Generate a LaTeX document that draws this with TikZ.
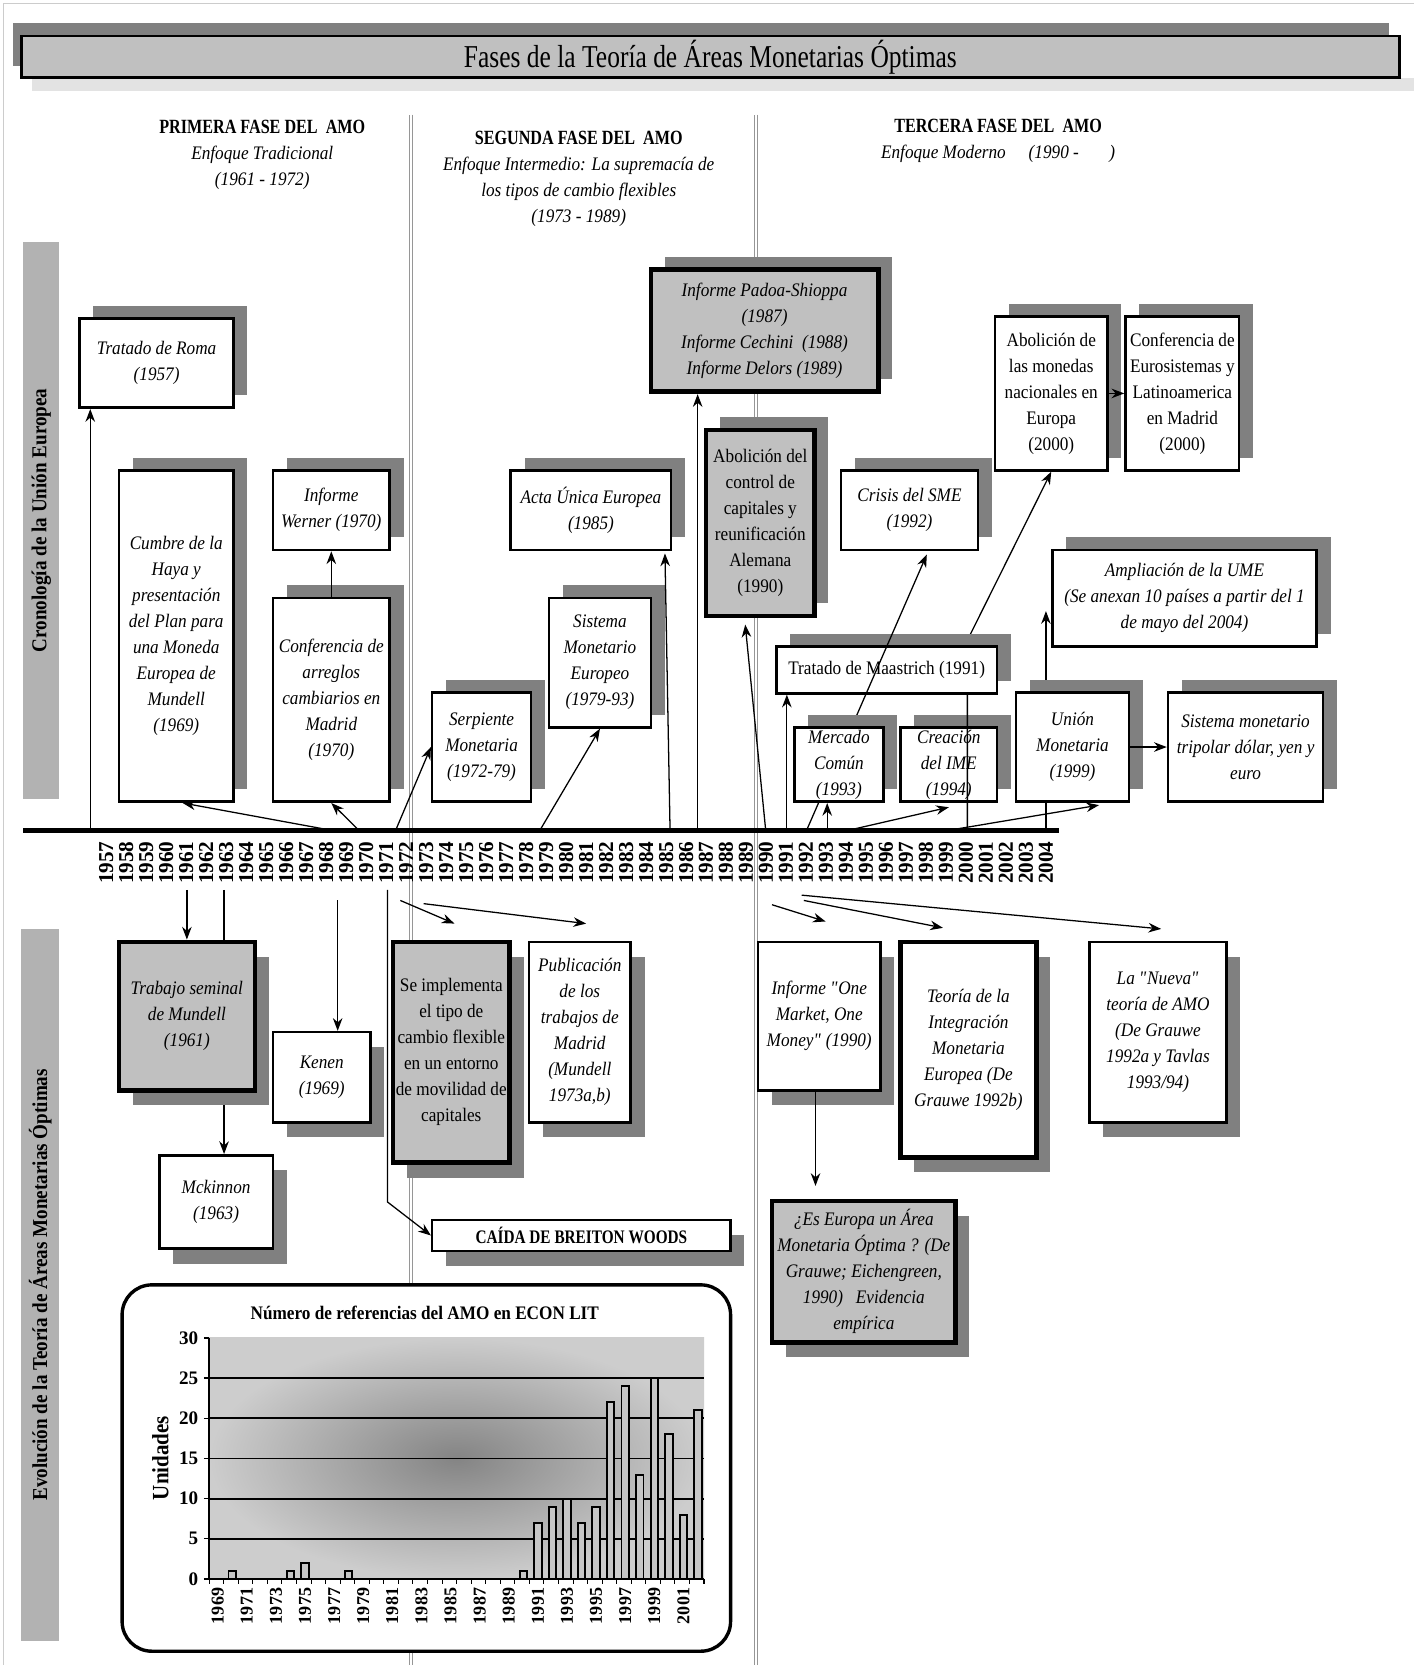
\documentclass[tikz,border=0pt]{standalone}
\usepackage{fontspec}
\setmainfont[FakeStretch=0.9]{Liberation Serif}
\newfontfamily\cond[FakeStretch=0.8]{Liberation Serif}
\newfontfamily\plain{Liberation Serif}
\usetikzlibrary{arrows.meta,shadows,fit,calc}
\definecolor{shd}{RGB}{128,128,128}
\definecolor{boxgray}{RGB}{192,192,192}
\definecolor{sidegray}{RGB}{178,178,178}
\definecolor{sepgray}{RGB}{150,150,150}
\newcommand\BX[7][]{\node[bx,#1,minimum width={(#5-#3)*0.5pt},minimum height={(#6-#4)*0.5pt}] (#2) at ({(#3+#5)/2},{(#4+#6)/2}) {#7};}
\newcommand\qq{\textquotedbl}
\begin{document}
\begin{tikzpicture}[x=0.5pt,y=-0.5pt,
  bx/.style={draw=black, fill=white, line width=1.2pt, inner sep=0pt, align=center,
    font=\fontsize{9}{12.25}\selectfont\itshape},
  up/.style={font=\fontsize{9}{12.25}\selectfont},
  thk/.style={line width=2.2pt},
  gfill/.style={fill=boxgray},
  shUR/.style={general shadow={fill=shd, shadow xshift=6.5pt, shadow yshift=6pt}},
  shDR/.style={general shadow={fill=shd, shadow xshift=6.5pt, shadow yshift=-7pt}},
  arr/.style={-{Stealth[length=6pt,width=4.5pt]}, line width=0.6pt},
  sep/.style={draw=sepgray, double=white, double distance=1pt, line width=0.45pt},
  hdr/.style={align=center, font=\fontsize{9}{12.25}\selectfont\itshape},
  sidebar/.style={fill=sidegray, inner sep=0pt},
  sidetxt/.style={rotate=90, font=\bfseries\fontsize{10}{12}\selectfont},
  yrlab/.style={rotate=90, anchor=east, inner sep=0pt, font=\plain\bfseries\fontsize{10}{12}\selectfont},
  clab/.style={rotate=90, anchor=east, inner sep=0pt, font=\plain\bfseries\fontsize{8.5}{10}\selectfont},
  bar/.style={draw=black, fill=gray!45, line width=0.9pt},
]
\useasboundingbox (0,0) rectangle (1332,1568);
% page frame
\draw[gray!40, line width=0.6pt] (3,1568) -- (3,3) -- (1332,3);

% title
\fill[shd] (12,22) rectangle (1308,62);
\fill[gray!22] (30,73) rectangle (1332,86);
\node[draw=black, line width=1.3pt, fill=boxgray, inner sep=0pt,
  minimum width={1298*0.5pt}, minimum height={39*0.5pt},
  font=\cond\fontsize{15}{18}\selectfont] (title) at (669,53.5) {Fases de la Teoría de Áreas Monetarias Óptimas};

% phase separators
\draw[sep] (387,108) -- (387,1568);
\draw[sep] (712,108) -- (712,1568);

% headers
\node[hdr] (h1) at (247,145.5) {{\cond\bfseries\upshape\fontsize{9.5}{12.25}\selectfont PRIMERA FASE DEL\ \ AMO}\\Enfoque Tradicional\\(1961 - 1972)};
\node[hdr] (h2) at (545,168) {{\cond\bfseries\upshape\fontsize{9.5}{12.25}\selectfont SEGUNDA FASE DEL\ \ AMO}\\Enfoque Intermedio: La supremacía de\\los tipos de cambio flexibles\\(1973 - 1989)};
\node[hdr] (h3) at (940,133) {{\cond\bfseries\upshape\fontsize{9.5}{12.25}\selectfont TERCERA FASE DEL\ \ AMO}\\Enfoque Moderno\hspace{1.2em}(1990 -\hspace{1.6em})};

% side bars
\node[sidebar, fit={(22,228) (56,752)}] (cron) {};
\node[sidetxt] (crontxt) at (cron.center) {Cronología de la Unión Europea};
\node[sidebar, fit={(20,875) (56,1545)}] (evo) {};
\node[sidetxt] (evotxt) at (evo.center) {Evolución de la Teoría de Áreas Monetarias Óptimas};

% timeline
\coordinate (tlA) at (22,782);
\coordinate (tlB) at (997,782);
\draw[line width=2.6pt] (tlA) -- (tlB);
\foreach \yr in {1957,...,2004}
  \node[yrlab] (yr\yr) at ({100+(\yr-1957)*18.83},792) {\yr};

% timeline anchor points
\coordinate (tRoma) at (85,781);
\coordinate (tCumbre) at (307,781);
\coordinate (tConf) at (337,781);
\coordinate (tSerp) at (373,781);
\coordinate (tSme) at (509,781);
\coordinate (tActa) at (631,781);
\coordinate (tPadoa) at (657,781);
\coordinate (tAbol) at (721,781);
\coordinate (tMaas) at (741,781);
\coordinate (tCrisis) at (760,781);
\coordinate (tMerc) at (779,781);
\coordinate (tIme) at (803,781);
\coordinate (tUni) at (899,781);
\coordinate (t2000) at (911,781);
\coordinate (k2000) at (911,603);
\coordinate (t2004) at (985,781);
\coordinate (bTrab) at (176,838);
\coordinate (bMck) at (211,838);
\coordinate (bKen) at (318,848);
\coordinate (bBW) at (365,838);
\coordinate (kBW) at (365,1132);
\coordinate (bSe) at (377,848);
\coordinate (bPub) at (399,851);
\coordinate (bOne) at (727,852);
\coordinate (bTeo) at (757,848);
\coordinate (bNue) at (755,843);

% ---------- top boxes ----------
\BX[shUR]{roma}{75}{300}{220}{384}{Tratado de Roma\\(1957)}
\BX[shUR]{cumbre}{112}{443}{220}{755}{Cumbre de la\\Haya y\\presentación\\del Plan para\\una Moneda\\Europea de\\Mundell\\(1969)}
\BX[shUR]{werner}{257}{443}{367}{518}{Informe\\Werner (1970)}
\BX[shUR]{conf}{257}{563}{367}{755}{Conferencia de\\arreglos\\cambiarios en\\Madrid\\(1970)}
\BX[shUR]{serp}{407}{652}{500}{755}{Serpiente\\Monetaria\\(1972-79)}
\BX[shUR]{sme}{517}{563}{613}{685}{Sistema\\Monetario\\Europeo\\(1979-93)}
\BX[shUR]{acta}{481}{443}{632}{518}{Acta Única Europea\\(1985)}
\BX[shUR,thk,gfill]{padoa}{613}{254}{827}{369}{Informe Padoa-Shioppa\\(1987)\\Informe Cechini\ \ (1988)\\Informe Delors (1989)}
\BX[shUR,thk,gfill,up]{abol}{665}{405}{767}{580}{Abolición del\\control de\\capitales y\\reunificación\\Alemana\\(1990)}
\BX[shUR]{crisis}{792}{443}{921}{518}{Crisis del SME\\(1992)}
\BX[shUR,up]{mon}{937}{298}{1043}{443}{Abolición de\\las monedas\\nacionales en\\Europa\\(2000)}
\BX[shUR,up]{eur}{1060}{298}{1167}{443}{Conferencia de\\Eurosistemas y\\Latinoamerica\\en Madrid\\(2000)}
\BX[shUR]{amp}{991}{518}{1240}{609}{Ampliación de la UME\\(Se anexan 10 países a partir del 1\\de mayo del 2004)}
\BX[shUR]{ime}{848}{685}{939}{755}{Creación\\del IME\\(1994)}
\BX[shUR]{tri}{1100}{652}{1246}{755}{Sistema monetario\\tripolar dólar, yen y\\euro}

\draw[arr] (t2000) -- (k2000) -- (mon.south);
\BX[shUR,up]{maas}{731}{609}{939}{653}{Tratado de Maastrich (1991)}
\draw[arr] (tCrisis) -- ([xshift=41pt,yshift=-1.5pt]crisis.south west);
\BX[shUR]{merc}{748}{685}{832}{755}{Mercado\\Común\\(1993)}
\draw[arr] (t2004) -- ($(t2004 |- amp.west)+(0,12)$);
\BX[shUR]{uni}{957}{652}{1063}{755}{Unión\\Monetaria\\(1999)}

% top connectors
\draw[arr] (tRoma) -- (tRoma |- roma.south);
\draw[arr] (tCumbre) -- ([xshift=3pt]cumbre.south);
\draw[arr] (tConf) -- (conf.south);
\draw[arr] (conf.north) -- (werner.south);
\draw[arr] (tSerp) -- (serp.west);
\draw[arr] (tSme) -- (sme.south);
\draw[arr] (tActa) -- ([xshift=-3.5pt,yshift=-1pt]acta.south east);
\draw[arr] (tPadoa) -- (tPadoa |- padoa.south);
\draw[arr] (tAbol) -- ([xshift=19.5pt,yshift=-3pt]abol.south west);
\draw[arr] (tMaas) -- (tMaas |- maas.south);
\draw[arr] (tMerc) -- (tMerc |- merc.south);
\draw[arr] (tIme) -- ([yshift=-2pt]ime.south);
\draw[arr] (tUni) -- ([xshift=12.5pt,yshift=-1pt]uni.south);
\draw[arr] (uni.east) -- (tri.west);
\draw[arr] (mon.east) -- (eur.west);

% ---------- bottom boxes ----------
\BX[shDR]{mck}{150}{1088}{257}{1176}{Mckinnon\\(1963)}
\draw[arr] (bMck) -- (bMck |- mck.north);
\BX[shDR,thk,gfill]{trab}{112}{887}{240}{1027}{Trabajo seminal\\de Mundell\\(1961)}
\BX[shDR]{ken}{257}{972}{349}{1057}{Kenen\\(1969)}
\BX[shDR,thk,gfill,up]{se}{370}{887}{480}{1095}{Se implementa\\el tipo de\\cambio flexible\\en un entorno\\de movilidad de\\capitales}
\BX[shDR]{pub}{498}{887}{594}{1057}{Publicación\\de los\\trabajos de\\Madrid\\(Mundell\\1973a,b)}
\BX[shDR,font=\cond\bfseries\fontsize{9}{11}\selectfont]{caida}{407}{1149}{688}{1178}{CAÍDA DE BREITON WOODS}
\BX[shDR]{one}{714}{887}{829}{1027}{Informe \qq One\\Market, One\\Money\qq\ (1990)}
\BX[shDR,thk]{teo}{848}{887}{976}{1090}{Teoría de la\\Integración\\Monetaria\\Europea (De\\Grauwe 1992b)}
\BX[shDR]{nue}{1026}{887}{1155}{1057}{La \qq Nueva\qq\\teoría de AMO\\(De Grauwe\\1992a y Tavlas\\1993/94)}
\BX[shDR,thk,gfill]{es}{727}{1131}{900}{1264}{¿Es Europa un Área\\Monetaria Óptima ? (De\\Grauwe; Eichengreen,\\1990)\ \ \ Evidencia\\empírica}

% bottom connectors
\draw[arr] (bTrab) -- (bTrab |- trab.north);
\draw[arr] (bKen) -- (bKen |- ken.north);
\draw[arr] (bBW) -- (kBW) -- (caida.west);
\draw[arr] (bSe) -- ($(se.north)+(3,-15)$);
\draw[arr] (bPub) -- ($(pub.north)+(6,-16)$);
\draw[arr] (bOne) -- ($(one.north)+(6,-18)$);
\draw[arr] (bTeo) -- ($(teo.north)+(-24,-11)$);
\draw[arr] (bNue) -- ($(nue.north)+(3,-11)$);
\draw[arr] ([xshift=-1.75pt]one.south) -- ($(one.south |- es.north)+(-3.5,-12)$);

% ---------- chart ----------
\node[draw=black, line width=1.6pt, rounded corners=14pt, fill=white, inner sep=0pt,
  fit={(115,1210) (688,1555)}] (chart) {};
\node[font=\bfseries\fontsize{9}{11}\selectfont] (ctitle) at (400,1236) {Número de referencias del AMO en ECON LIT};
\shade[inner color={rgb,255:red,132;green,132;blue,132}, outer color={rgb,255:red,205;green,205;blue,205}]
  (197,1260) rectangle (663,1487);
\foreach \v in {5,10,...,25}
  \draw[line width=0.8pt] (197,{1487-\v*7.567}) -- (663,{1487-\v*7.567});
\draw[line width=0.8pt] (197,1260) -- (197,1487) -- (663,1487);
\foreach \v in {0,5,...,30}
  \draw[line width=0.6pt] (192,{1487-\v*7.567}) -- (197,{1487-\v*7.567});
\foreach \i in {0,...,34}
  \draw[line width=0.5pt] ({197+\i*13.706},1487) -- ({197+\i*13.706},1492);
\foreach \yr/\v in {1970/1,1974/1,1975/2,1978/1,1990/1,1991/7,1992/9,1993/10,1994/7,1995/9,1996/22,1997/24,1998/13,1999/25,2000/18,2001/8,2002/21}
  \draw[bar] ({205+(\yr-1969)*13.706-3.5},1487) rectangle ({205+(\yr-1969)*13.706+3.5},{1487-\v*7.567});
\foreach \v in {0,5,...,30}
  \node[anchor=east, inner sep=1pt, font=\plain\bfseries\fontsize{9}{11}\selectfont] (cy\v) at (189,{1487-\v*7.567}) {\v};
\foreach \yr in {1969,1971,...,2001}
  \node[clab] (cx\yr) at ({205+(\yr-1969)*13.706},1495) {\yr};
\node[rotate=90, font=\bfseries\fontsize{11}{13}\selectfont] (unid) at (151,1373) {Unidades};
\end{tikzpicture}
\end{document}
